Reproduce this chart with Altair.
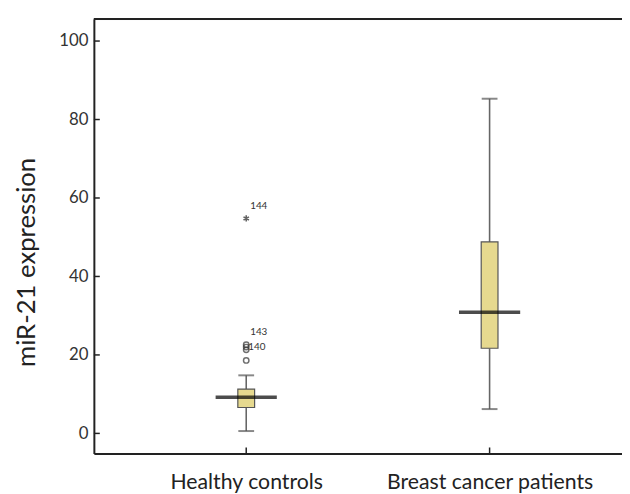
import altair as alt
import pandas as pd

groups = ["Healthy controls", "Breast cancer patients"]
whisker_low = [0.6, 6.2]
q1 = [6.6, 21.7]
median = [9.2, 30.9]
q3 = [11.3, 48.8]
whisker_high = [14.8, 85.3]

outlier_group = ["Healthy controls"] * 4
outlier_value = [18.6, 21.3, 22.0, 22.6]
extreme_group = ["Healthy controls"]
extreme_value = [54.8]
label_140_value = [22.0]
label_140_text = ["140"]
label_up_value = [22.6, 54.8]
label_up_text = ["143", "144"]
y_ticks = [0, 20, 40, 60, 80, 100]

W, H = 535, 440
Y_DOMAIN = [-5.1, 105.6]

box_df = pd.DataFrame({"group": groups, "low": whisker_low, "q1": q1,
                       "median": median, "q3": q3, "high": whisker_high})
out_df = pd.DataFrame({"group": outlier_group, "v": outlier_value})
ext_df = pd.DataFrame({"group": extreme_group, "v": extreme_value})
lab140_df = pd.DataFrame({"group": ["Healthy controls"], "v": label_140_value, "t": label_140_text})
labup_df = pd.DataFrame({"group": ["Healthy controls"] * 2, "v": label_up_value, "t": label_up_text})
tick_df = pd.DataFrame({"t": y_ticks})

xscale = alt.Scale(type="point", domain=groups, padding=0.585, align=0.535)
yscale = alt.Scale(domain=Y_DOMAIN, nice=False, zero=False)

X = alt.X("group:N", scale=xscale, sort=groups,
          axis=alt.Axis(title=None, ticks=False, labelAngle=0, labelFont="Lato",
                        labelFontSize=21.5, labelColor="#222", labelPadding=19,
                        labelLimit=0, domainColor="#222", domainWidth=2))
Y = alt.Y("low:Q", scale=yscale,
          axis=alt.Axis(values=y_ticks, ticks=False, grid=False, labelFont="Lato",
                        labelFontSize=17, labelColor="#333", labelPadding=6,
                        domainColor="#222", domainWidth=2,
                        title="miR-21 expression", titleFont="Lato", titleFontSize=26,
                        titleFontWeight="normal", titleColor="#222", titleAngle=270,
                        titleX=-60, titleY=246, titleAlign="center",
                        titleBaseline="alphabetic"))

base = alt.Chart(box_df)

whisker_lo = base.mark_rule(color="#666666", strokeWidth=1.6).encode(x=X, y=Y, y2="q1:Q")
whisker_hi = base.mark_rule(color="#666666", strokeWidth=1.6).encode(
    x="group:N", y=alt.Y("q3:Q", scale=yscale), y2="high:Q")
cap_lo = base.mark_tick(orient="horizontal", size=16, thickness=2, color="#555555").encode(
    x="group:N", y=alt.Y("low:Q", scale=yscale))
cap_hi = base.mark_tick(orient="horizontal", size=16, thickness=2, color="#555555").encode(
    x="group:N", y=alt.Y("high:Q", scale=yscale))
box = base.mark_bar(size=17, fill="#e6d98f", stroke="#555555", strokeWidth=1.2).encode(
    x="group:N", y=alt.Y("q1:Q", scale=yscale), y2="q3:Q")
med = base.mark_tick(orient="horizontal", size=62, thickness=3.5, color="#000000").encode(
    x="group:N", y=alt.Y("median:Q", scale=yscale))

outliers = alt.Chart(out_df).mark_point(shape="circle", size=30, filled=False,
                                        stroke="#333333", strokeWidth=1.5).encode(
    x="group:N", y=alt.Y("v:Q", scale=yscale))
star_path = "M0,-1L0,1M-0.87,-0.5L0.87,0.5M-0.87,0.5L0.87,-0.5"
extremes = alt.Chart(ext_df).mark_point(shape=star_path, size=40, filled=False,
                                        stroke="#222222", strokeWidth=1.6).encode(
    x="group:N", y=alt.Y("v:Q", scale=yscale))
lab140 = alt.Chart(lab140_df).mark_text(align="left", baseline="middle", dx=2, dy=0,
                                        font="Lato", fontSize=10, color="#333333").encode(
    x="group:N", y=alt.Y("v:Q", scale=yscale), text="t:N")
labup = alt.Chart(labup_df).mark_text(align="left", baseline="middle", dx=4, dy=-13,
                                      font="Lato", fontSize=10, color="#333333").encode(
    x="group:N", y=alt.Y("v:Q", scale=yscale), text="t:N")

ytick_marks = alt.Chart(tick_df).mark_rule(color="#222222", strokeWidth=1.5).encode(
    x=alt.value(0), x2=alt.value(6), y=alt.Y("t:Q", scale=yscale))
xtick_marks = base.mark_rule(color="#222222", strokeWidth=1.5).encode(
    x="group:N", y=alt.value(H), y2=alt.value(H - 6))
top_line = base.mark_rule(color="#222222", strokeWidth=2).encode(
    x=alt.value(0), x2=alt.value(W), y=alt.value(0))

chart = alt.layer(
    whisker_lo, whisker_hi, cap_lo, cap_hi, box, med, outliers, extremes,
    lab140, labup, ytick_marks, xtick_marks, top_line
).properties(
    width=W, height=H,
    autosize=alt.AutoSizeParams(type="none"),
    padding={"left": 87, "top": 8, "right": 0, "bottom": 46},
).configure_view(stroke=None).configure(background="white")

chart.save("out.html", embed_options={"renderer": "svg", "actions": False})
